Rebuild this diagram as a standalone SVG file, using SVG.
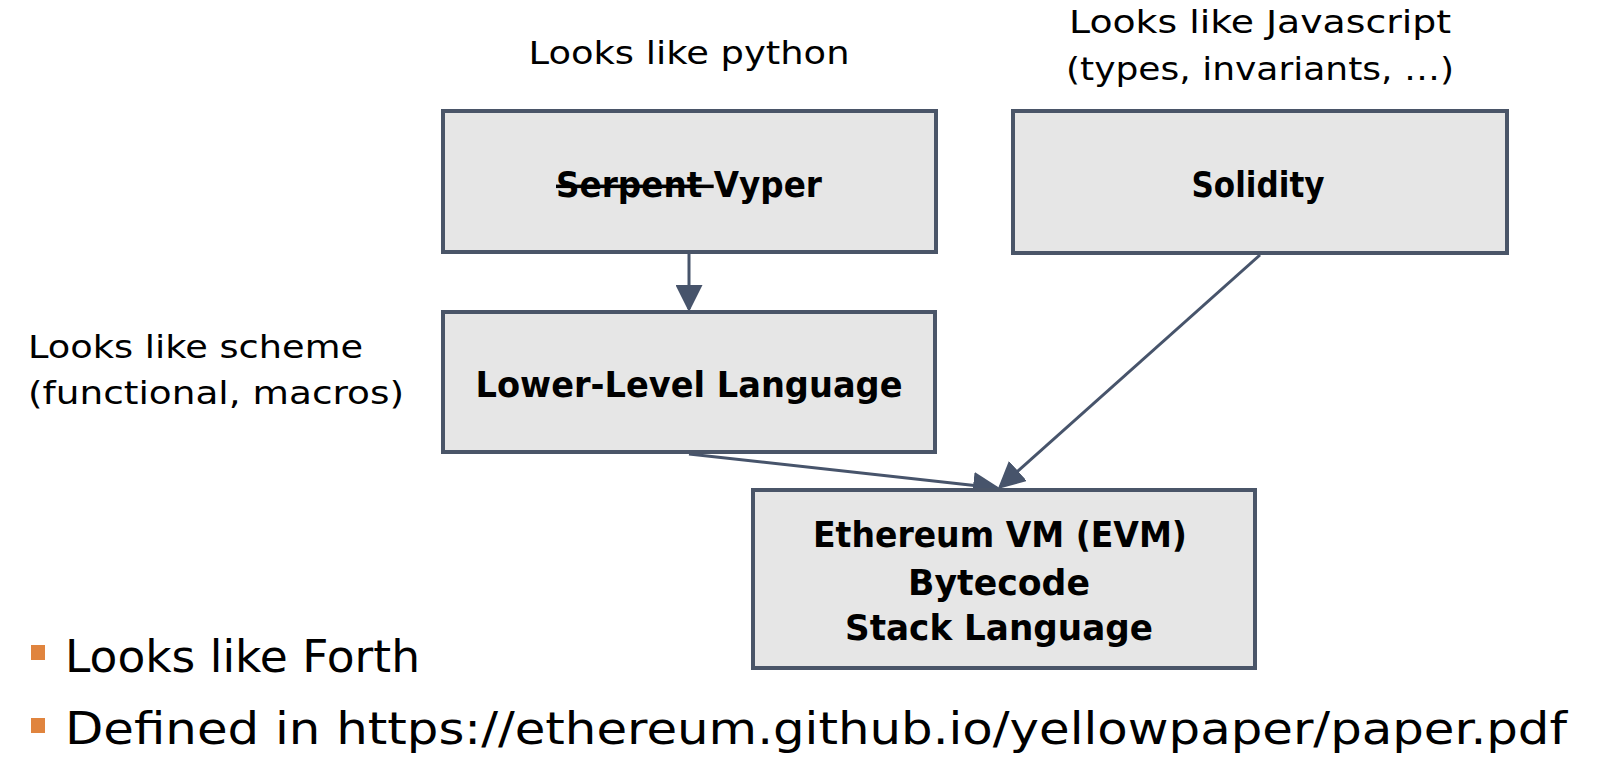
<svg xmlns="http://www.w3.org/2000/svg" width="1616" height="768" viewBox="0 0 1616 768">
<style>
.box{fill:#e6e6e6;stroke:#4a5568;stroke-width:4}
.lbl{font-family:"DejaVu Sans","Liberation Sans",sans-serif;font-weight:bold;font-size:35px;fill:#000;text-anchor:middle}
.note{font-family:"DejaVu Sans","Liberation Sans",sans-serif;font-size:32px;fill:#000}
.bul{font-family:"DejaVu Sans","Liberation Sans",sans-serif;font-size:44px;fill:#000}
.edge{stroke:#47546b;stroke-width:3;fill:none;marker-end:url(#ah)}
</style>
<defs>
<marker id="ah" markerWidth="9" markerHeight="9" refX="8" refY="4.5" orient="auto" markerUnits="strokeWidth">
<path d="M0,0 L9,4.5 L0,9 z" fill="#47546b"/>
</marker>
</defs>
<rect width="1616" height="768" fill="#fff"/>
<g id="annotations">
<text class="note" x="689" y="64" text-anchor="middle" textLength="321" lengthAdjust="spacingAndGlyphs">Looks like python</text>
<text class="note" x="1260" y="33" text-anchor="middle" textLength="382" lengthAdjust="spacingAndGlyphs">Looks like Javascript</text>
<text class="note" x="1260" y="80" text-anchor="middle" textLength="388" lengthAdjust="spacingAndGlyphs">(types, invariants, …)</text>
<text class="note" x="28" y="358" textLength="335" lengthAdjust="spacingAndGlyphs">Looks like scheme</text>
<text class="note" x="28" y="404" textLength="376" lengthAdjust="spacingAndGlyphs">(functional, macros)</text>
</g>
<g id="connectors">
<line class="edge" x1="689" y1="254" x2="689" y2="309"/>
<line class="edge" x1="689" y1="454" x2="997" y2="488"/>
<line class="edge" x1="1260" y1="255" x2="1000" y2="487"/>
</g>
<g id="vyper">
<rect class="box" x="443" y="111" width="493" height="141"/>
<text class="lbl" x="689" y="197" textLength="266" lengthAdjust="spacingAndGlyphs"><tspan text-decoration="line-through">Serpent </tspan>Vyper</text>
</g>
<g id="solidity">
<rect class="box" x="1013" y="111" width="494" height="142"/>
<text class="lbl" x="1258" y="197" textLength="133" lengthAdjust="spacingAndGlyphs">Solidity</text>
</g>
<g id="lll">
<rect class="box" x="443" y="312" width="492" height="140"/>
<text class="lbl" x="689" y="397" textLength="427" lengthAdjust="spacingAndGlyphs">Lower-Level Language</text>
</g>
<g id="evm">
<rect class="box" x="753" y="490" width="502" height="178"/>
<text class="lbl" x="1000" y="547" textLength="374" lengthAdjust="spacingAndGlyphs">Ethereum VM (EVM)</text>
<text class="lbl" x="999" y="595" textLength="182" lengthAdjust="spacingAndGlyphs">Bytecode</text>
<text class="lbl" x="999" y="640" textLength="308" lengthAdjust="spacingAndGlyphs">Stack Language</text>
</g>
<g id="bullets">
<rect x="31" y="645" width="14" height="15" fill="#e0843e"/>
<text class="bul" x="65" y="672" textLength="355" lengthAdjust="spacingAndGlyphs">Looks like Forth</text>
<rect x="31" y="718" width="14" height="15" fill="#e0843e"/>
<text class="bul" x="65" y="744" textLength="1502" lengthAdjust="spacingAndGlyphs">Defined in https://ethereum.github.io/yellowpaper/paper.pdf</text>
</g>
</svg>
